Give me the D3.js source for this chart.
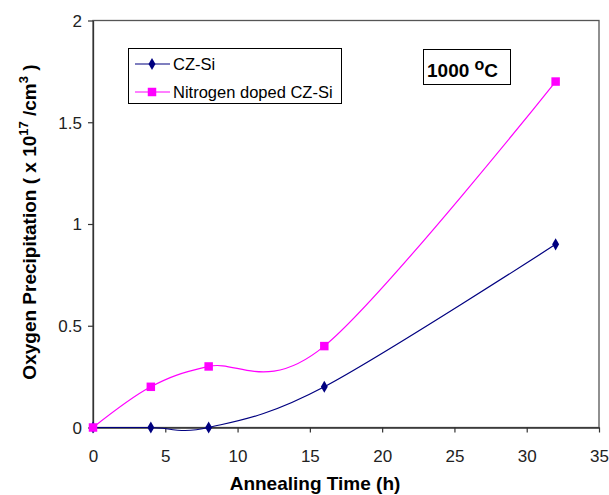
<!DOCTYPE html>
<html>
<head>
<meta charset="utf-8">
<script src="https://cdn.jsdelivr.net/npm/d3@7"></script>
<style>
  body { margin: 0; background: #fff; }
  text { font-family: "Liberation Sans", Arial, sans-serif; }
</style>
</head>
<body>
<svg id="chart" width="609" height="495"></svg>
<script>
// Annealing time (h) and oxygen precipitation (x 10^17 /cm^3)
const hours = [0, 4, 8, 16, 32];
const czSi = [0, 0, 0, 0.2, 0.9];
const nitrogenCzSi = [0, 0.2, 0.3, 0.4, 1.7];
const xTicks = [0, 5, 10, 15, 20, 25, 30, 35];
const yTicks = [0, 0.5, 1, 1.5, 2];
const seriesNames = ["CZ-Si", "Nitrogen doped CZ-Si"];

const svg = d3.select("#chart");
const x = d3.scaleLinear().domain([0, 35]).range([93, 599]);
const y = d3.scaleLinear().domain([0, 2]).range([427.5, 20.5]);

// Plot frame
svg.append("rect").attr("x", x(0)).attr("y", y(2))
  .attr("width", x(35) - x(0)).attr("height", y(0) - y(2))
  .attr("fill", "none").attr("stroke", "#555").attr("stroke-width", 1.3);

// Axes
const xAxis = svg.append("g").attr("transform", `translate(0,${y(0)})`)
  .call(d3.axisBottom(x).tickValues(xTicks).tickSize(5).tickSizeOuter(0).tickFormat(d3.format("d")));
const yAxis = svg.append("g").attr("transform", `translate(${x(0)},0)`)
  .call(d3.axisLeft(y).tickValues(yTicks).tickSize(5).tickSizeOuter(0).tickFormat(d => String(d)));
[xAxis, yAxis].forEach(g => {
  g.select(".domain").attr("stroke", "#333").attr("stroke-width", 1.3);
  g.selectAll(".tick line").attr("stroke", "#333").attr("stroke-width", 1.2);
  g.selectAll(".tick text").attr("fill", "#222").style("font-size", "17px")
    .style("font-family", "'Liberation Sans', Arial, sans-serif");
});
xAxis.selectAll(".tick text").attr("y", 0).attr("dy", 0)
  .attr("transform", "translate(0,34)");
yAxis.selectAll(".tick text").attr("dx", "-3").attr("dy", "0.35em");

// Axis titles
svg.append("text").attr("x", 315).attr("y", 490).attr("text-anchor", "middle")
  .style("font-size", "19px").style("font-weight", "bold").text("Annealing Time (h)");

const yt = svg.append("text").attr("transform", `translate(36,222) rotate(-90)`)
  .attr("text-anchor", "middle").style("font-size", "19px").style("font-weight", "bold");
yt.append("tspan").text("Oxygen Precipitation ( x 10");
yt.append("tspan").attr("dy", "-8").style("font-size", "13px").text("17");
yt.append("tspan").attr("dy", "8").text(" /cm");
yt.append("tspan").attr("dy", "-8").style("font-size", "13px").text("3");
yt.append("tspan").attr("dy", "8").text(" )");

// Smoothed series lines
const line = d3.line().x(d => x(d[0])).y(d => y(d[1])).curve(d3.curveCardinal.tension(0));
const series = [
  { name: seriesNames[0], values: czSi, color: "#000080", symbol: d3.symbolDiamond, size: 42 },
  { name: seriesNames[1], values: nitrogenCzSi, color: "#ff00ff", symbol: d3.symbolSquare, size: 72 }
];

series.forEach(s => {
  const pts = hours.map((h, i) => [h, s.values[i]]);
  svg.append("path").attr("d", line(pts)).attr("fill", "none")
    .attr("stroke", s.color).attr("stroke-width", 1.2);
});
series.forEach(s => {
  svg.selectAll(null).data(hours.map((h, i) => [h, s.values[i]])).enter()
    .append("path")
    .attr("d", d3.symbol().type(s.symbol).size(s.size))
    .attr("transform", d => `translate(${x(d[0])},${y(d[1])})`)
    .attr("fill", s.color);
});

// Legend
const legend = svg.append("g");
legend.append("rect").attr("x", 128.5).attr("y", 48.5).attr("width", 213).attr("height", 55)
  .attr("fill", "#fff").attr("stroke", "#000").attr("stroke-width", 1);
series.forEach((s, i) => {
  const ly = 64 + i * 28;
  legend.append("line").attr("x1", 135).attr("x2", 170).attr("y1", ly).attr("y2", ly)
    .attr("stroke", s.color).attr("stroke-width", 1.2);
  legend.append("path").attr("d", d3.symbol().type(s.symbol).size(s.size))
    .attr("transform", `translate(152,${ly})`).attr("fill", s.color);
  legend.append("text").attr("x", 173).attr("y", ly + 6).style("font-size", "16.5px")
    .attr("fill", "#000").text(s.name);
});

// Temperature annotation
svg.append("rect").attr("x", 423.5).attr("y", 49.5).attr("width", 87).attr("height", 35)
  .attr("fill", "#fff").attr("stroke", "#000").attr("stroke-width", 1);
const tt = svg.append("text").attr("x", 427).attr("y", 77)
  .style("font-size", "19px").style("font-weight", "bold");
tt.append("tspan").text("1000 ");
tt.append("tspan").attr("dy", "-7").style("font-size", "16px").text("o");
tt.append("tspan").attr("dy", "7").text("C");
</script>
</body>
</html>
